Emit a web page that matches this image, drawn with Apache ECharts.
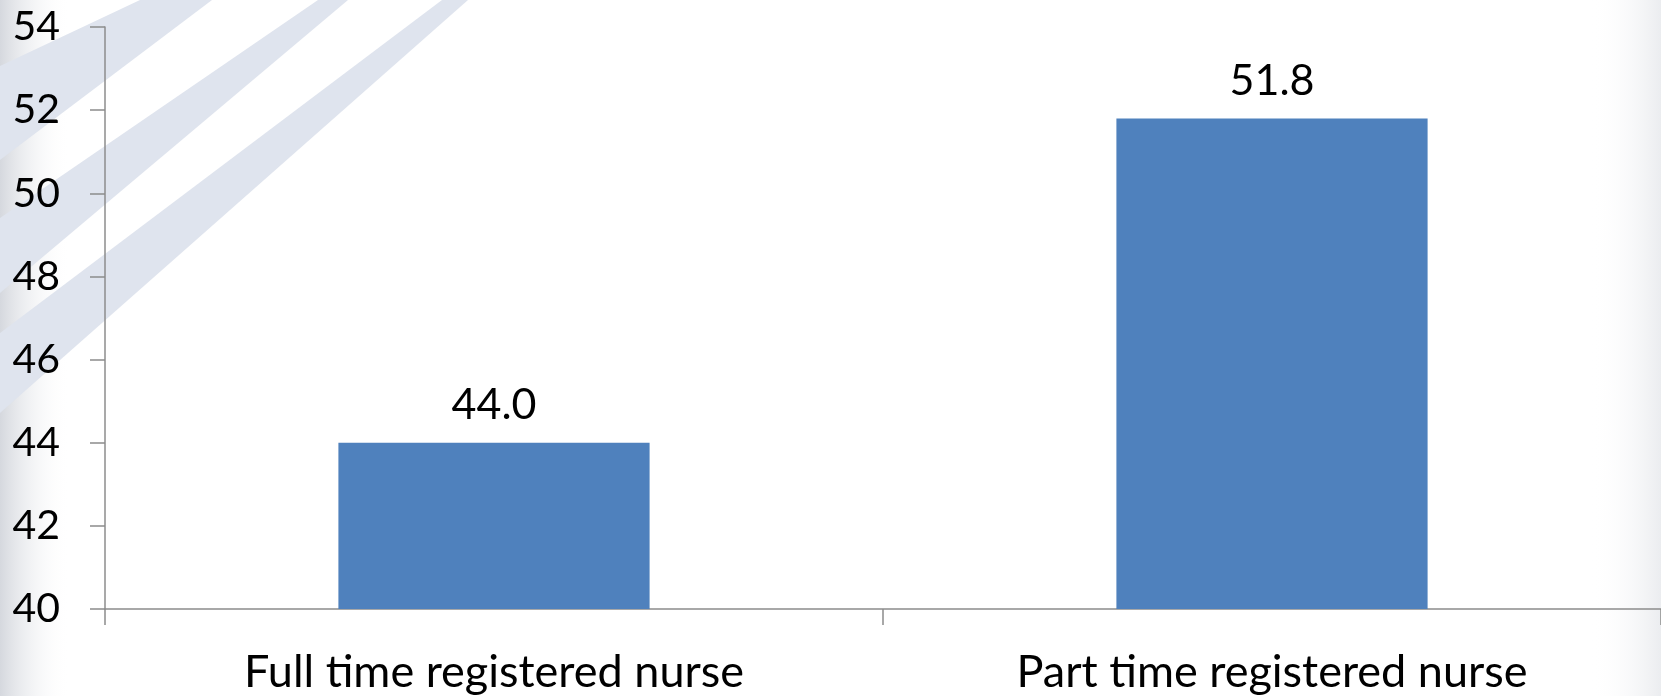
<!DOCTYPE html>
<html>
<head>
<meta charset="utf-8">
<script src="https://cdn.jsdelivr.net/npm/echarts@6/dist/echarts.min.js"></script>
<style>
html,body{margin:0;padding:0;background:#fff;}
#main{width:1661px;height:696px;}
</style>
</head>
<body>
<div id="main"></div>
<script>
// 数据
var categories = ['Full time registered nurse', 'Part time registered nurse'];
var values = [44.0, 51.8];
var yTicks = [40, 42, 44, 46, 48, 50, 52, 54];

var dom = document.getElementById('main');
var myChart = echarts.init(dom);
var fontName = 'Lato';
var stripe = '#dfe4ee';

var option = {
	backgroundColor: '#fff',
	animation: false,
	// 背景装饰：左上角斜条纹和两侧阴影
	graphic: [
		{type: 'rect', z: -20, shape: {x: 0, y: 0, width: 70, height: 696},
			style: {fill: new echarts.graphic.LinearGradient(0, 0, 1, 0, [
				{offset: 0, color: 'rgba(185,190,200,0.6)'},
				{offset: 1, color: 'rgba(255,255,255,0)'}])}},
		{type: 'rect', z: -20, shape: {x: 1591, y: 0, width: 70, height: 696},
			style: {fill: new echarts.graphic.LinearGradient(0, 0, 1, 0, [
				{offset: 0, color: 'rgba(255,255,255,0)'},
				{offset: 1, color: 'rgba(215,218,224,0.5)'}])}},
		{type: 'polygon', z: -10, shape: {points: [[140, 0], [212, 0], [0, 160], [0, 66]]}, style: {fill: stripe}},
		{type: 'polygon', z: -10, shape: {points: [[318, 0], [348, 0], [0, 293], [0, 218]]}, style: {fill: stripe}},
		{type: 'polygon', z: -10, shape: {points: [[442, 0], [468, 0], [0, 413], [0, 333]]}, style: {fill: stripe}}
	],
	grid: {
		left: 105,
		right: 0,
		top: 27,
		bottom: 87,
		containLabel: false
	},
	xAxis: [{
		type: 'category',
		data: categories,
		axisLine: {lineStyle: {color: '#8c8c8c', width: 1.5}},
		axisTick: {show: true, length: 16, lineStyle: {color: '#8c8c8c', width: 1.5}},
		axisLabel: {
			color: '#000',
			fontSize: 45,
			fontFamily: fontName,
			margin: 41
		}
	}],
	yAxis: [{
		type: 'value',
		min: yTicks[0],
		max: yTicks[yTicks.length - 1],
		interval: 2,
		splitLine: {show: false},
		axisLine: {show: true, lineStyle: {color: '#8c8c8c', width: 1.5}},
		axisTick: {show: true, length: 15, lineStyle: {color: '#8c8c8c', width: 1.5}},
		axisLabel: {
			color: '#000',
			fontSize: 41,
			fontFamily: fontName,
			margin: 45
		}
	}],
	series: [{
		name: 'nurse',
		type: 'bar',
		barWidth: '40%',
		data: values,
		itemStyle: {color: '#4f81bd'},
		label: {
			show: true,
			position: 'top',
			distance: 16,
			color: '#000',
			fontSize: 43,
			fontFamily: fontName,
			formatter: function (p) { return p.value.toFixed(1); }
		}
	}]
};
if (option && typeof option === 'object') {
	myChart.setOption(option, true);
}
</script>
</body>
</html>
